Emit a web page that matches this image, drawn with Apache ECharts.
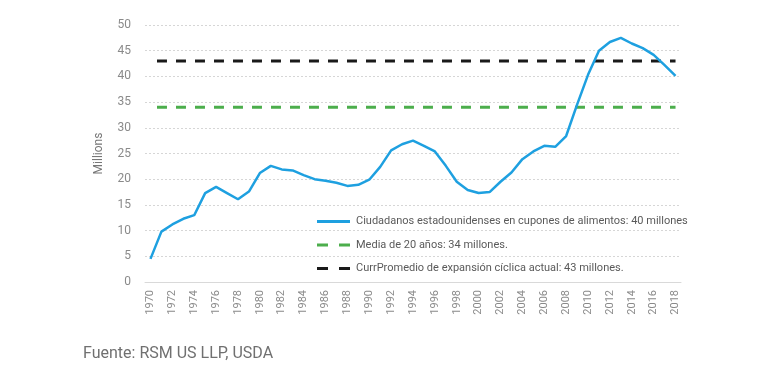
<!DOCTYPE html>
<html><head><meta charset="utf-8">
<script src="https://cdn.jsdelivr.net/npm/echarts@6/dist/echarts.min.js"></script>
<style>html,body{margin:0;padding:0;background:#fff}#c{width:770px;height:367px}</style>
</head><body><div id="c"></div>
<script>
const years = [];
for (let y = 1970; y <= 2018; y++) years.push(String(y));
const foodStamps = [4.5, 9.8, 11.2, 12.3, 13.0, 17.3, 18.5, 17.3, 16.1, 17.6,
  21.2, 22.6, 21.9, 21.7, 20.8, 20.0, 19.7, 19.3, 18.7, 18.9,
  19.9, 22.4, 25.6, 26.8, 27.5, 26.5, 25.4, 22.6, 19.5, 17.9,
  17.3, 17.5, 19.5, 21.3, 23.9, 25.4, 26.5, 26.3, 28.4, 34.5,
  40.3, 45.0, 46.7, 47.5, 46.4, 45.5, 44.2, 42.2, 40.1];
const avg20 = 34;
const cycleAvg = 43;
const yTicks = [0, 50, 5];
const names = [
  'Ciudadanos estadounidenses en cupones de alimentos: 40 millones',
  'Media de 20 años: 34 millones.',
  'CurrPromedio de expansión cíclica actual: 43 millones.'
];
const flat = v => years.map(() => v);
const solidIcon = 'path://M0,0H33V3H0Z';
const dashIcon = 'path://M0,0H11V3H0Z M22,0H33V3H22Z';

const chart = echarts.init(document.getElementById('c'));
chart.setOption({
  animation: false,
  backgroundColor: '#fff',
  textStyle: { fontFamily: 'Roboto' },
  grid: { left: 145, right: 89, top: 25, bottom: 85 },
  title: {
    text: 'Fuente: RSM US LLP, USDA', left: 78, top: 341,
    textStyle: { fontFamily: 'Roboto', fontSize: 16, fontWeight: 'normal', color: '#707070' }
  },
  legend: {
    orient: 'vertical', left: 312, top: 210, itemGap: 10.5,
    itemWidth: 33, itemHeight: 3, symbolKeepAspect: false,
    textStyle: { fontFamily: 'Roboto', fontSize: 11, color: '#5a5a5a', padding: [0, 0, 0, 1], lineHeight: 13 },
    data: [
      { name: names[0], icon: solidIcon },
      { name: names[1], icon: dashIcon },
      { name: names[2], icon: dashIcon }
    ]
  },
  xAxis: {
    type: 'category', data: years, boundaryGap: true,
    axisLine: { lineStyle: { color: '#d9d9d9' } },
    axisTick: { show: false },
    axisLabel: { interval: 1, rotate: 90, fontSize: 11, color: '#8a8a8a', margin: 8 },
    splitLine: { show: false }
  },
  yAxis: {
    type: 'value', min: yTicks[0], max: yTicks[1], interval: yTicks[2],
    name: 'Millions', nameLocation: 'middle', nameGap: 40, nameRotate: 90,
    nameTextStyle: { fontSize: 12, color: '#777' },
    axisLine: { show: false }, axisTick: { show: false },
    axisLabel: { fontSize: 12, color: '#8a8a8a', margin: 14 },
    splitLine: { lineStyle: { color: '#d6d6d6', type: [2, 2], width: 1 } }
  },
  series: [
    { name: names[0], type: 'line', data: foodStamps, symbol: 'none', z: 3,
      lineStyle: { color: '#1ea0e0', width: 2.5 }, itemStyle: { color: '#1ea0e0' } },
    { name: names[1], type: 'line', data: flat(avg20), symbol: 'none', z: 2,
      lineStyle: { color: '#4cae4c', width: 3, type: [10, 9], dashOffset: 12.5 }, itemStyle: { color: '#4cae4c' } },
    { name: names[2], type: 'line', data: flat(cycleAvg), symbol: 'none', z: 2,
      lineStyle: { color: '#1a1a1a', width: 3, type: [10, 9], dashOffset: 12.5 }, itemStyle: { color: '#1a1a1a' } }
  ]
});
</script></body></html>
